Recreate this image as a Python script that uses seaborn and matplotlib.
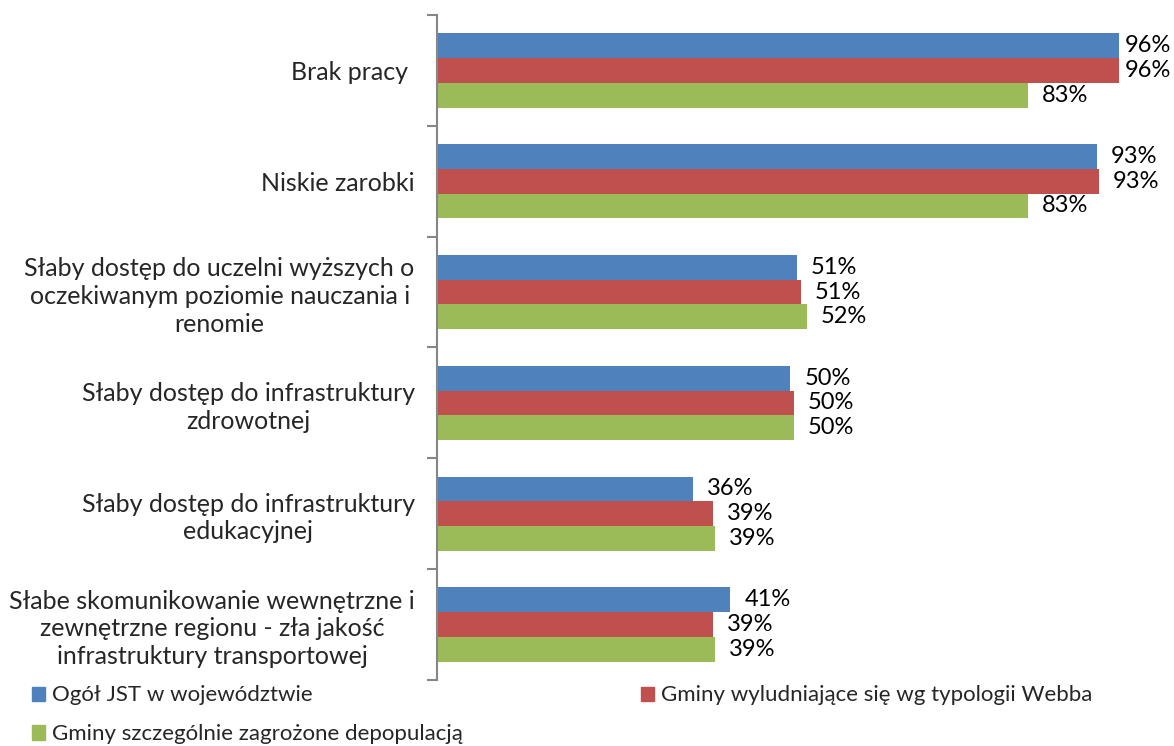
import numpy as np
import pandas as pd
import matplotlib
matplotlib.use("Agg")
import matplotlib.pyplot as plt
import seaborn as sns
from matplotlib.patches import Patch

categories = [
    "Brak pracy ",
    "Niskie zarobki",
    "Słaby dostęp do uczelni wyższych o\noczekiwanym poziomie nauczania i\nrenomie",
    "Słaby dostęp do infrastruktury\nzdrowotnej",
    "Słaby dostęp do infrastruktury\nedukacyjnej",
    "Słabe skomunikowanie wewnętrzne i\nzewnętrzne regionu - zła jakość\ninfrastruktury transportowej",
]
series = [
    "Ogół JST w województwie",
    "Gminy wyludniające się wg typologii Webba",
    "Gminy szczególnie zagrożone depopulacją",
]
ogol = [0.96, 0.929, 0.507, 0.4975, 0.36, 0.413]
webba = [0.96, 0.932, 0.512, 0.502, 0.388, 0.388]
depop = [0.832, 0.832, 0.521, 0.502, 0.392, 0.392]
colors = ["#4F81BD", "#C0504D", "#9BBB59"]

df = pd.DataFrame({
    "cat": categories * 3,
    "series": [series[0]] * 6 + [series[1]] * 6 + [series[2]] * 6,
    "value": ogol + webba + depop,
})

sns.set_theme(style="white")
plt.rcParams["font.family"] = ["Lato", "DejaVu Sans"]

FS_CAT = 18
FS_VAL = 17
FS_LEG = 16

fig = plt.figure(figsize=(11.74, 7.46), dpi=100)
ax = fig.add_axes([0.3722, 0.0885, 0.6052, 0.8914])

sns.barplot(data=df, y="cat", x="value", hue="series", order=categories,
            hue_order=series, palette=colors, orient="h", width=0.67,
            saturation=1, ax=ax, legend=False, edgecolor="none")

ax.set_xlim(0, 1)
ax.set_ylim(5.5, -0.5)
ax.set_xlabel("")
ax.set_ylabel("")
ax.set_xticks([])
for s in ["top", "right", "bottom"]:
    ax.spines[s].set_visible(False)
ax.spines["left"].set_color("#868686")
ax.spines["left"].set_linewidth(1.5)

ax.tick_params(axis="y", which="major", left=False, length=0, pad=16, labelsize=FS_CAT)
ax.set_yticks(np.arange(-0.5, 6, 1), minor=True)
ax.tick_params(axis="y", which="minor", left=True, length=7, width=1.5,
               color="#868686", direction="out")
for lbl in ax.get_yticklabels():
    lbl.set_multialignment("center")
    lbl.set_linespacing(1.25)

for cont in ax.containers:
    vals = list(cont.datavalues)
    near = [f"{v:.0%}" if v > 0.95 else "" for v in vals]
    far = [f"{v:.0%}" if v <= 0.95 else "" for v in vals]
    ax.bar_label(cont, labels=near, padding=4, fontsize=FS_VAL, color="#000000")
    ax.bar_label(cont, labels=far, padding=10, fontsize=FS_VAL, color="#000000")

handles = [Patch(color=colors[0]), Patch(color=colors[2]), Patch(color=colors[1])]
labels = [series[0], series[2], series[1]]
fig.legend(handles, labels, loc="upper left", bbox_to_anchor=(0.0178, 0.096),
           ncol=2, frameon=False, fontsize=FS_LEG, handlelength=0.6, handleheight=0.6,
           handletextpad=0.3, columnspacing=8.0, labelspacing=0.85, borderpad=0)

fig.savefig("out.png", dpi=100)
